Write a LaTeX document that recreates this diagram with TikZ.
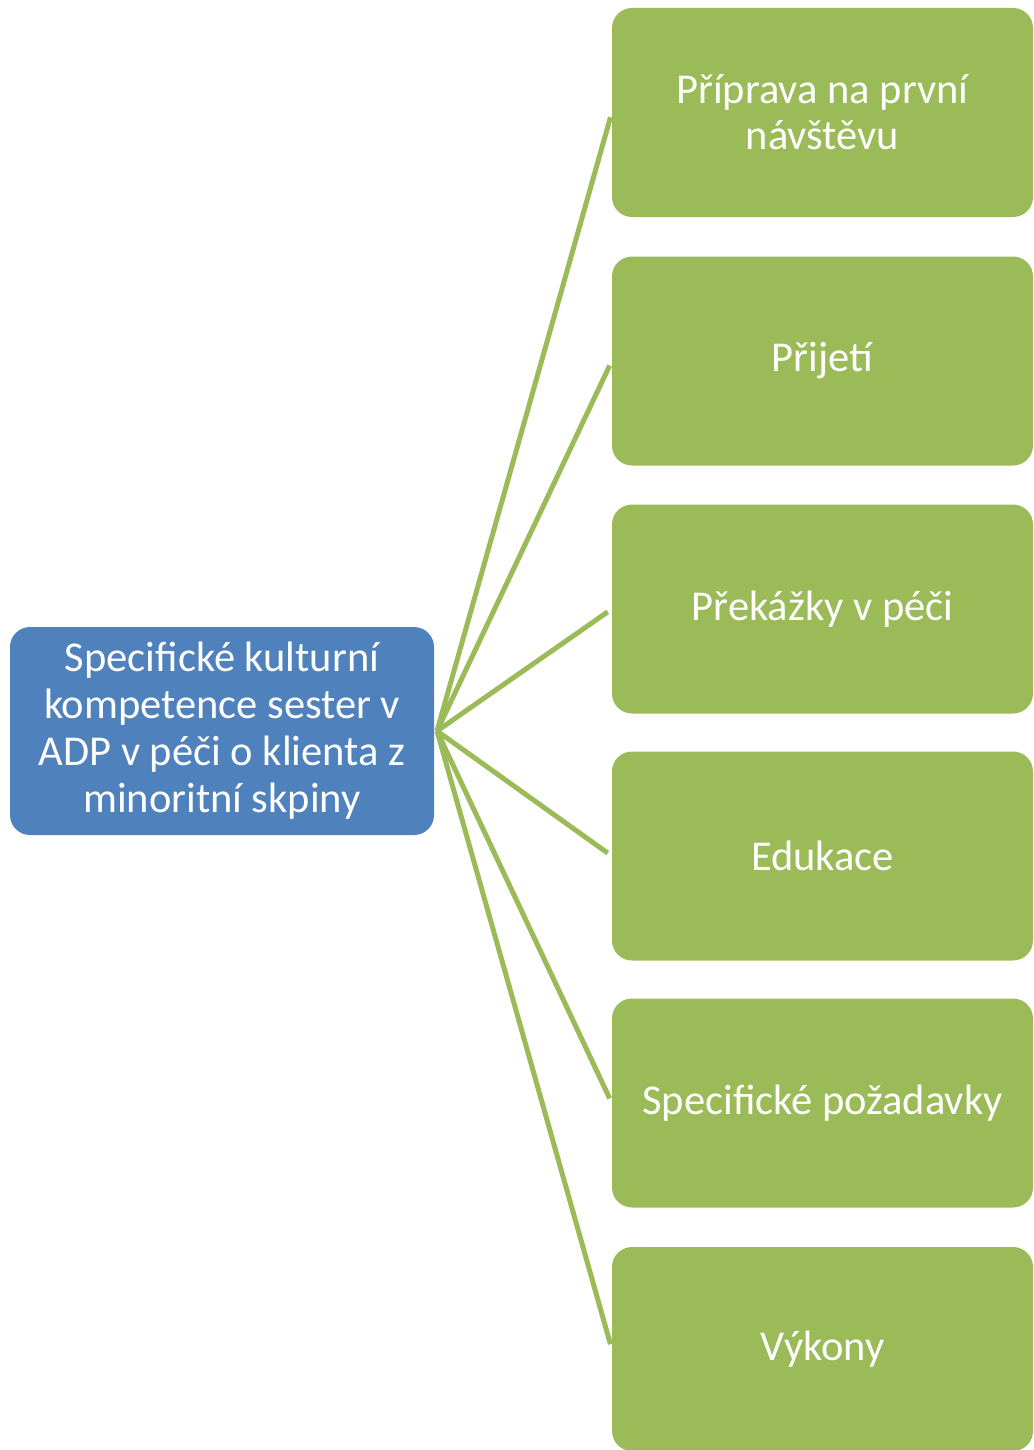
\documentclass[tikz,border=0pt]{standalone}
\usepackage{fontspec}
\setmainfont{Carlito}
\definecolor{boxgreen}{HTML}{9BBB59}
\definecolor{boxblue}{HTML}{4F81BD}
\begin{document}
\begin{tikzpicture}[x=1pt,y=-1pt,
  gbox/.style={fill=boxgreen, rounded corners=20pt, minimum width=421pt, minimum height=209pt, inner sep=0pt, text=white, align=center, font=\fontsize{42.5}{46}\selectfont},
  bbox/.style={fill=boxblue, rounded corners=20pt, minimum width=424pt, minimum height=208pt, inner sep=0pt, text=white, align=center, font=\fontsize{42.5}{47}\selectfont},
  conn/.style={draw=boxgreen, line width=5pt, shorten >=5pt}]
\useasboundingbox (0,0) rectangle (1033,1450);
\coordinate (hub) at (437,731);
\node[gbox] (g1) at (822.5,112.5) {Příprava na první\\návštěvu};
\node[gbox] (g2) at (822.5,361) {Přijetí};
\node[gbox] (g3) at (822.5,609) {Překážky v péči};
\node[gbox] (g4) at (822.5,856) {Edukace};
\node[gbox] (g5) at (822.5,1103) {Specifické požadavky};
\node[gbox, minimum height=204pt] (g6) at (822.5,1349) {Výkony};
\node[bbox] (b) at (222,731) {Specifické kulturní\\kompetence sester v\\ADP v péči o klienta z\\minoritní skpiny};
\foreach \i in {1,...,6} \draw[conn] (hub) -- (g\i.west);
\end{tikzpicture}
\end{document}
